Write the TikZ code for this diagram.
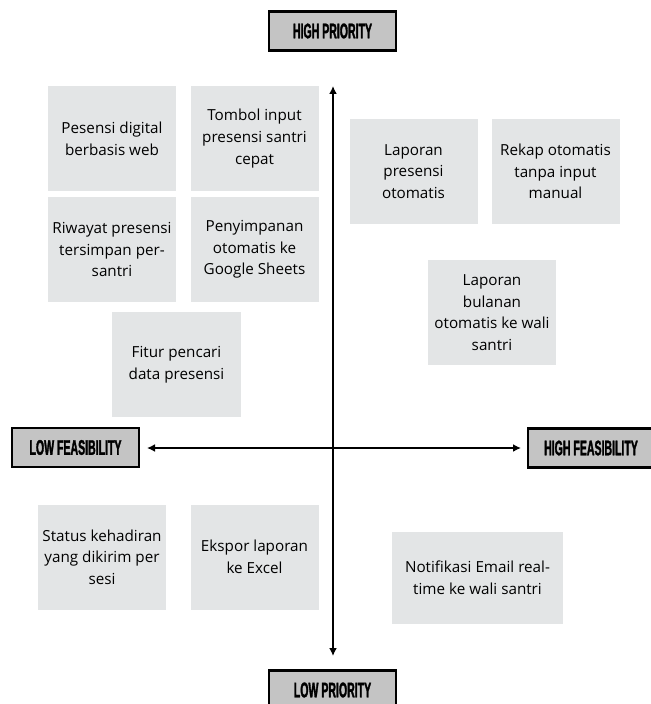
\documentclass[tikz,border=0pt]{standalone}
\usepackage{fontspec}
\setmainfont{Open Sans}
\newfontfamily\headfont[FakeStretch=0.5,FakeBold=1.5]{Liberation Sans}
\usepackage{xcolor}
\usetikzlibrary{arrows.meta}
\definecolor{ideagray}{HTML}{E3E5E6}
\definecolor{taggray}{HTML}{C4C4C4}

\begin{document}
\begin{tikzpicture}[
  x=0.03cm,y=-0.03cm,
  font=\fontsize{13}{18.5}\selectfont,
  idea/.style={fill=ideagray,minimum width=3.84cm,minimum height=3.15cm,align=center,inner sep=0pt},
  tag/.style={draw,line width=1.8pt,fill=taggray,minimum width=3.8cm,minimum height=1.17cm,
    inner sep=0pt,font=\headfont\bfseries\fontsize{18}{18}\selectfont},
  axis/.style={{Latex[length=2.4mm,width=2.4mm]}-{Latex[length=2.4mm,width=2.4mm]},line width=1.6pt}
]
\useasboundingbox (0,0) rectangle (651,704);

% quadrant labels
\node[tag] (highprio) at (332.5,31) {HIGH PRIORITY};
\node[tag] (lowprio) at (332.5,690) {LOW PRIORITY};
\node[tag] (lowfeas) at (75.5,447.5) {LOW FEASIBILITY};
\node[tag] (highfeas) at (591,448) {HIGH FEASIBILITY};

% axes
\coordinate (ytop) at (333,86);
\coordinate (ybot) at (333,656);
\coordinate (xleft) at (147,448);
\coordinate (xright) at (521,448);
\draw[axis] (ytop) -- (ybot);
\draw[axis] (xleft) -- (xright);

% features
\node[idea] (pesensi) at (112,138.5) {Pesensi digital\\berbasis web};
\node[idea] (tombol) at (254.5,138.5) {Tombol input\\presensi santri\\cepat};
\node[idea] (riwayat) at (112,249.5) {Riwayat presensi\\tersimpan per-\\santri};
\node[idea] (simpan) at (254.5,249.5) {Penyimpanan\\otomatis ke\\Google Sheets};
\node[idea] (cari) at (176.5,364.5) {Fitur pencari\\data presensi};
\node[idea] (laporan) at (413.5,171.5) {Laporan\\presensi\\otomatis};
\node[idea] (rekap) at (555.5,171.5) {Rekap otomatis\\tanpa input\\manual};
\node[idea] (bulanan) at (492,312.5) {Laporan\\bulanan\\otomatis ke wali\\santri};
\node[idea] (status) at (102,557) {Status kehadiran\\yang dikirim per\\sesi};
\node[idea] (ekspor) at (254.5,557) {Ekspor laporan\\ke Excel};
\node[idea,minimum width=5.13cm,minimum height=2.76cm] (notif) at (477.5,578) {Notifikasi Email real-\\time ke wali santri};
\end{tikzpicture}
\end{document}
